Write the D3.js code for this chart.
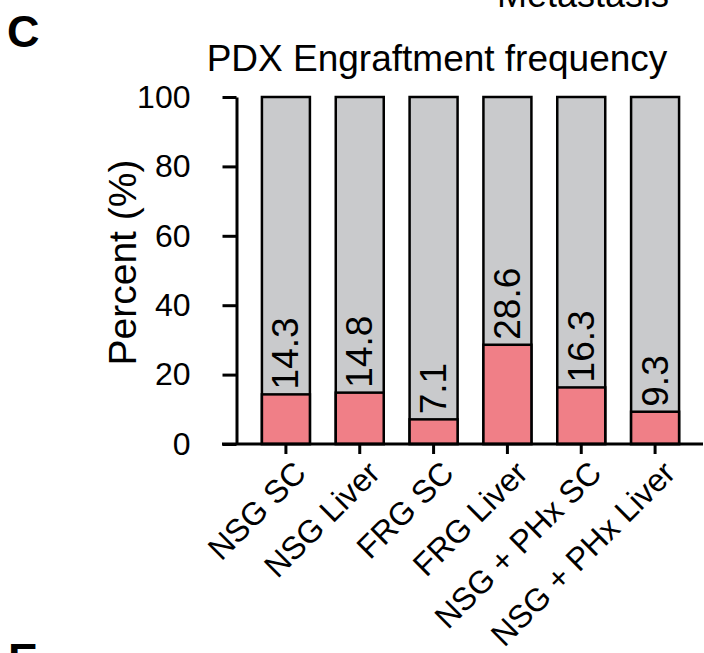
<!DOCTYPE html>
<html>
<head>
<meta charset="utf-8">
<script src="https://cdn.jsdelivr.net/npm/d3@7"></script>
<style>
  html, body { margin: 0; padding: 0; background: #fff; }
  svg { display: block; font-family: Arial, "Liberation Sans", Helvetica, sans-serif; }
</style>
</head>
<body>
<svg id="chart" width="704" height="653"></svg>
<script>
// ---- data ----
const categories = ["NSG SC", "NSG Liver", "FRG SC", "FRG Liver", "NSG + PHx SC", "NSG + PHx Liver"];
const engrafted = [14.3, 14.8, 7.1, 28.6, 16.3, 9.3];
const totals = [100, 100, 100, 100, 100, 100];
const yTicks = [0, 20, 40, 60, 80, 100];
const chartTitle = "PDX Engraftment frequency";
const yTitle = "Percent (%)";
const panelLabel = "C";
const nextPanelLabel = "E";
const topFragment = "Metastasis";

// ---- layout ----
const svg = d3.select("#chart");
const axisX = 236.5;
const y = d3.scaleLinear().domain([0, 100]).range([444, 97]);
const x = d3.scaleBand().domain(categories).range([249, 692]).paddingInner(0.35).paddingOuter(0.175);
const pink = "#f07f87";
const gray = "#c9cacc";

// panel letters / fragments
svg.append("text").attr("x", 7).attr("y", 47).attr("font-size", 45).attr("font-weight", "bold").text(panelLabel);
svg.append("text").attr("x", 8).attr("y", 675).attr("font-size", 45).attr("font-weight", "bold").text(nextPanelLabel);
svg.append("text").attr("x", 583).attr("y", 7).attr("text-anchor", "middle").attr("font-size", 36).text(topFragment);

// title
svg.append("text").attr("x", 437).attr("y", 71).attr("text-anchor", "middle").attr("font-size", 37).text(chartTitle);

// bars
const g = svg.append("g");
categories.forEach((c, i) => {
  g.append("rect")
    .attr("x", x(c)).attr("width", x.bandwidth())
    .attr("y", y(totals[i])).attr("height", y(0) - y(totals[i]))
    .attr("fill", gray).attr("stroke", "#000").attr("stroke-width", 2.5);
  g.append("rect")
    .attr("x", x(c)).attr("width", x.bandwidth())
    .attr("y", y(engrafted[i])).attr("height", y(0) - y(engrafted[i]))
    .attr("fill", pink).attr("stroke", "#000").attr("stroke-width", 2.5);
  g.append("text")
    .attr("transform", `translate(${x(c) + x.bandwidth() / 2},${y(engrafted[i]) - 5}) rotate(-90)`)
    .attr("text-anchor", "start").attr("dominant-baseline", "central")
    .attr("font-size", 37).text(engrafted[i]);
});

// y axis
const yAxis = svg.append("g").attr("transform", `translate(${axisX},0)`)
  .call(d3.axisLeft(y).tickValues(yTicks).tickSize(14).tickSizeOuter(0).tickPadding(32));
yAxis.select(".domain").attr("stroke", "#000").attr("stroke-width", 3);
yAxis.selectAll(".tick line").attr("stroke", "#000").attr("stroke-width", 3);
yAxis.selectAll(".tick text").attr("font-size", 32).attr("fill", "#000")
  .attr("font-family", "Arial, 'Liberation Sans', sans-serif");

// x axis
svg.append("line").attr("x1", 222).attr("x2", 703).attr("y1", y(0)).attr("y2", y(0))
  .attr("stroke", "#000").attr("stroke-width", 3);
const xAxis = svg.append("g").attr("transform", `translate(0,${y(0)})`)
  .call(d3.axisBottom(x).tickSize(10).tickSizeOuter(0));
xAxis.select(".domain").remove();
xAxis.selectAll(".tick line").attr("stroke", "#000").attr("stroke-width", 3);
xAxis.selectAll(".tick text")
  .attr("font-size", 32).attr("fill", "#000")
  .attr("font-family", "Arial, 'Liberation Sans', sans-serif")
  .attr("text-anchor", "end")
  .attr("x", 0).attr("y", 0).attr("dy", 0)
  .attr("transform", "translate(22,31) rotate(-45)");

// y title
svg.append("text")
  .attr("transform", `translate(136,${(y(0) + y(100)) / 2 - 8}) rotate(-90)`)
  .attr("text-anchor", "middle").attr("font-size", 39).text(yTitle);
</script>
</body>
</html>
